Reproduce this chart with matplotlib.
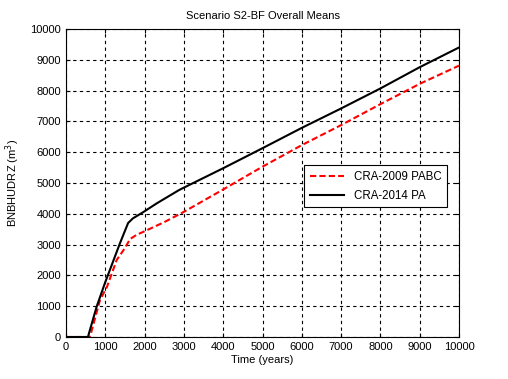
import matplotlib.pyplot as plt

plt.rcParams['font.family'] = ['Liberation Sans', 'DejaVu Sans']

t_2009 = [0, 600, 620, 865, 1040, 1290, 1500, 1630, 1800, 1960, 2500, 2980, 4000, 5000,
          6000, 7000, 8000, 9000, 10000]
v_2009 = [0, 0, 50, 1200, 1620, 2500, 2890, 3180, 3320, 3410, 3730, 4050, 4790, 5530,
          6230, 6880, 7560, 8220, 8810]

t_2014 = [0, 560, 580, 780, 990, 1375, 1580, 1700, 1960, 2310, 2875, 3000, 4000, 5000,
          6000, 7000, 8000, 9000, 10000]
v_2014 = [0, 0, 100, 985, 1750, 3050, 3700, 3850, 4050, 4340, 4770, 4850, 5480, 6130,
          6790, 7420, 8070, 8760, 9400]

x_ticks = list(range(0, 10001, 1000))
y_ticks = list(range(0, 10001, 1000))

fig = plt.figure(figsize=(5.08, 3.79), dpi=100)
ax = fig.add_axes([66 / 508, 1 - 337 / 379, 393 / 508, 308 / 379])

ax.plot(t_2009, v_2009, 'r--', linewidth=1.5, dashes=(3, 1.5), label='CRA-2009 PABC')
ax.plot(t_2014, v_2014, 'k-', linewidth=1.5, label='CRA-2014 PA')

ax.set_xlim(0, 10000)
ax.set_ylim(0, 10000)
ax.set_xticks(x_ticks)
ax.set_yticks(y_ticks)
ax.tick_params(direction='in', labelsize=8, length=3, top=True, right=True)
ax.grid(True, color='black', linestyle=(0, (3, 3)), linewidth=0.8)
for s in ax.spines.values():
    s.set_linewidth(0.8)

ax.set_title('Scenario S2-BF Overall Means', fontsize=8, pad=7)
ax.set_xlabel('Time (years)', fontsize=8, labelpad=2)
ax.set_ylabel('BNBHUDRZ (m$^3$)', fontsize=8, labelpad=6)

leg = ax.legend(loc='upper left', bbox_to_anchor=((304 - 66) / 393, 1 - (165 - 29) / 308),
                borderaxespad=0, fontsize=8.3, fancybox=False, edgecolor='black',
                framealpha=1, handlelength=3.0, borderpad=0.5, labelspacing=0.6)
leg.get_frame().set_linewidth(0.8)

plt.savefig('out.png', dpi=100)
